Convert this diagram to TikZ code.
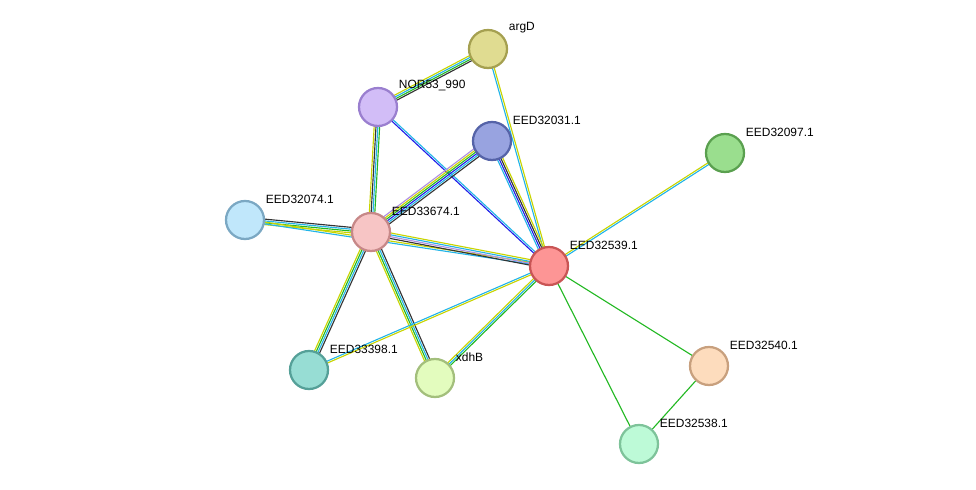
\documentclass[tikz,border=0pt]{standalone}
\usepackage{fontspec}
\setmainfont{Liberation Sans}
\usetikzlibrary{calc}
\definecolor{ctext}{HTML}{C8D400}
\definecolor{cdb}{HTML}{22B4E8}
\definecolor{cnb}{HTML}{22B822}
\definecolor{cco}{HTML}{333333}
\definecolor{cocc}{HTML}{2020E8}
\definecolor{chom}{HTML}{B090E0}
\newcommand{\stredge}[3]{%
  \foreach \c [count=\k] in {#3} {\xdef\nedge{\k}}%
  \foreach \c [count=\k] in {#3} {
    \pgfmathsetmacro{\off}{(\k-(\nedge+1)/2)*1.3}
    \draw[line width=0.8pt, \c] ($(#1)!\off pt!90:(#2)$) -- ($(#2)!\off pt!-90:(#1)$);
  }}
\begin{document}
\begin{tikzpicture}[x=0.025cm, y=-0.025cm,
		prot/.style={circle, draw, line width=1.6pt, minimum size=0.95cm, inner sep=0pt},
		plabel/.style={anchor=west, font=\fontsize{8.5}{10}\selectfont}
	]
	\useasboundingbox (0,0) rectangle (976,490);

	\coordinate (argD) at (488,49);
	\coordinate (nor) at (378,107);
	\coordinate (e031) at (492,141);
	\coordinate (e097) at (725,153);
	\coordinate (e074) at (245,220);
	\coordinate (e674) at (371,232);
	\coordinate (e539) at (549,266);
	\coordinate (e398) at (309,370);
	\coordinate (xdhB) at (435,378);
	\coordinate (e540) at (709,366);
	\coordinate (e538) at (639,444);

	% edges
	\stredge{argD}{nor}{ctext,cdb,cnb,cco}
	\stredge{argD}{e539}{cdb,ctext}
	\stredge{nor}{e674}{ctext,cco,cdb,cnb}
	\stredge{nor}{e539}{cocc,cdb}
	\stredge{e031}{e674}{chom,ctext,cnb,cocc,cdb,cco}
	\stredge{e031}{e539}{cdb,cocc,cco,ctext}
	\stredge{e097}{e539}{ctext,cdb}
	\stredge{e074}{e674}{ctext,cnb,cdb,cco}
	\stredge{e074}{e539}{cdb,ctext}
	\stredge{e674}{e539}{cco,chom,cdb,ctext}
	\stredge{e674}{e398}{ctext,cnb,cdb,cco}
	\stredge{e674}{xdhB}{ctext,cnb,cdb,cco}
	\stredge{e539}{e398}{cdb,ctext}
	\stredge{e539}{xdhB}{ctext,cdb,cnb}
	\stredge{e539}{e540}{cnb}
	\stredge{e539}{e538}{cnb}
	\stredge{e540}{e538}{cnb}

	% proteins
	\foreach \n/\f/\d/\t in {argD/E0DC91/A5A050/argD, nor/D2BDF7/9A7FCF/NOR53\_990,
		e031/98A3E0/5563A8/EED32031.1, e097/9ADE8E/5AA04F/EED32097.1,
		e074/C0E7FB/7BA8C3/EED32074.1, e674/F7C5C5/C78888/EED33674.1,
		e539/FD9595/C95555/EED32539.1, e398/97DDD4/55A098/EED33398.1,
		xdhB/E3FCBE/A3BF7C/xdhB, e540/FDDCBD/C8A07E/EED32540.1,
		e538/BDFAD7/7EC39A/EED32538.1} {
		\definecolor{fc}{HTML}{\f}\definecolor{dc}{HTML}{\d}
		\node[prot, fill=fc, draw=dc] (\n-node) at (\n) {};
		\node[plabel] (\n-lab) at ($(\n)+(16,-21)$) {\t};
	}
\end{tikzpicture}
\end{document}
